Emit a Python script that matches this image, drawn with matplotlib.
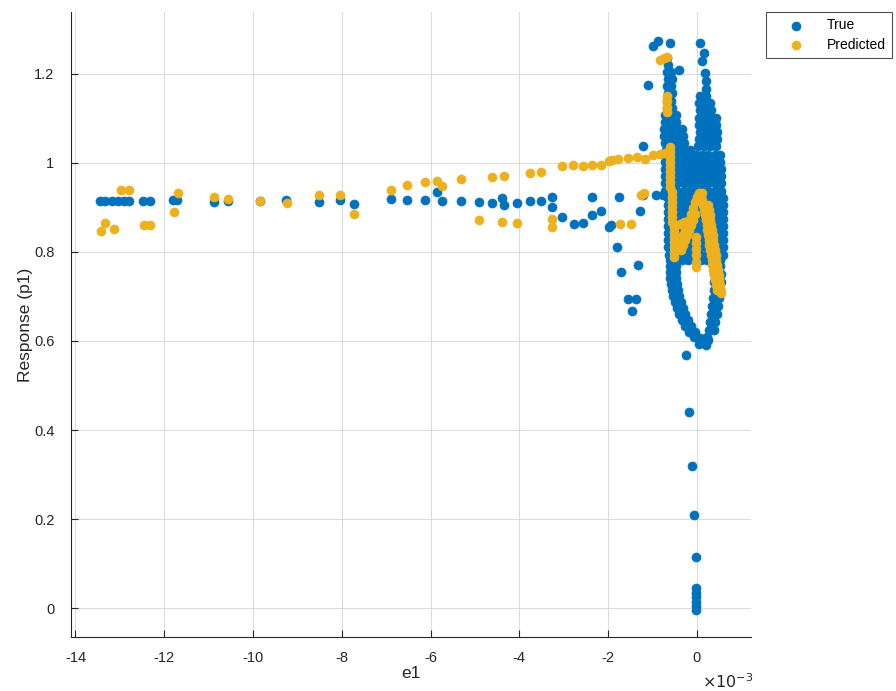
import numpy as np
import matplotlib.pyplot as plt

plt.rcParams['font.family'] = ['Liberation Sans', 'DejaVu Sans']
plt.rcParams['axes.unicode_minus'] = False

# e1 values are in units of 1e-3 (axis shows x10^-3)

# --- True: scattered points ---
true_e1 = [-13.45, -13.34, -13.18, -13.04, -12.90, -12.79, -12.48, -12.32,
           -11.80, -11.72, -10.88, -10.56, -9.84, -9.26, -8.51, -8.04, -7.73,
           -6.90, -6.52, -6.13, -5.86, -5.74, -5.32, -4.90, -4.62, -4.40, -4.34,
           -4.05, -3.76, -3.51, -3.27, -3.27, -3.03, -2.77, -2.57, -2.37, -2.37,
           -2.15, -1.98, -1.94, -1.75, -1.28, -1.81, -1.32, -1.70, -1.56, -1.37,
           -1.47, -1.21, -0.91, -0.76, -0.98, -0.87, -0.61, 0.08, 0.16, 0.11,
           0.18, 0.20, -0.40, -1.11, -1.21,
           -0.25, -0.17, -0.12, -0.06, -0.03, -0.01, -0.01, -0.01, -0.01, -0.01, -0.01]
true_p1 = [0.915, 0.915, 0.915, 0.915, 0.915, 0.915, 0.915, 0.915,
           0.917, 0.917, 0.913, 0.915, 0.915, 0.917, 0.913, 0.917, 0.907,
           0.918, 0.917, 0.917, 0.934, 0.915, 0.915, 0.912, 0.909, 0.922, 0.906,
           0.909, 0.915, 0.915, 0.923, 0.902, 0.879, 0.863, 0.866, 0.923, 0.883,
           0.893, 0.855, 0.861, 0.924, 0.891, 0.812, 0.771, 0.754, 0.694, 0.694,
           0.667, 0.928, 0.928, 0.928, 1.263, 1.273, 1.269, 1.269, 1.247, 1.228,
           1.202, 1.183, 1.208, 1.175, 1.038,
           0.569, 0.441, 0.319, 0.208, 0.114, 0.044, 0.034, 0.024, 0.014, 0.004, -0.004]

# --- True: dense cluster near e1 = 0, read row by row ---
true_core_p1 = [1.236, 1.220, 1.204, 1.188, 1.172, 1.156, 1.140, 1.124, 1.108,
                1.092, 1.076, 1.060, 1.044, 1.030,
                1.165, 1.150, 1.134, 1.118, 1.102, 1.086, 1.070, 1.054, 1.038,
                1.018, 1.002, 0.986, 0.970, 0.954, 0.938, 0.922, 0.906, 0.890,
                0.874, 0.858, 0.842, 0.826, 0.810, 0.794, 0.782]
true_core_e1 = [
    [-0.68], [-0.66], [-0.68, -0.58], [-0.66, -0.56], [-0.68, -0.58],
    [-0.66, -0.56], [-0.68, -0.58], [-0.68, -0.56], [-0.72, -0.60, -0.48],
    [-0.72, -0.60, -0.46], [-0.74, -0.60, -0.46, -0.34], [-0.74, -0.60, -0.46, -0.32],
    [-0.72, -0.58, -0.44, -0.30], [-0.70, -0.56, -0.42, -0.28, -0.16],
    [0.20], [0.08, 0.20], [0.04, 0.18, 0.30], [0.06, 0.20, 0.32],
    [0.04, 0.18, 0.32, 0.44], [0.04, 0.18, 0.32, 0.44], [0.06, 0.20, 0.34, 0.46],
    [0.04, 0.18, 0.32, 0.46], [0.02, 0.16, 0.30, 0.44],
    [-0.72, -0.58, -0.44, -0.30, -0.16, -0.02, 0.12, 0.26, 0.40, 0.52],
    [-0.72, -0.58, -0.44, -0.30, -0.16, -0.02, 0.12, 0.26, 0.40, 0.52],
    [-0.72, -0.58, -0.44, -0.30, -0.16, -0.02, 0.12, 0.26, 0.40, 0.54],
    [-0.72, -0.58, -0.44, -0.30, -0.16, -0.02, 0.12, 0.26, 0.40, 0.54],
    [-0.72, -0.58, -0.44, -0.30, -0.16, -0.02, 0.12, 0.26, 0.40, 0.54],
    [-0.72, -0.58, -0.44, -0.30, -0.16, -0.02, 0.12, 0.26, 0.40, 0.54],
    [-0.66, -0.52, -0.38, -0.24, -0.10, 0.04, 0.18, 0.32, 0.46, 0.58],
    [-0.66, -0.52, -0.38, -0.24, -0.10, 0.04, 0.18, 0.32, 0.46, 0.58],
    [-0.66, -0.52, -0.38, -0.24, -0.10, 0.04, 0.18, 0.32, 0.46, 0.58],
    [-0.66, -0.52, -0.38, -0.24, -0.10, 0.04, 0.18, 0.32, 0.46, 0.58],
    [-0.66, -0.52, -0.38, -0.24, -0.10, 0.04, 0.18, 0.32, 0.46, 0.58],
    [-0.66, -0.52, -0.38, -0.24, -0.10, 0.04, 0.18, 0.32, 0.46, 0.58],
    [-0.64, -0.50, -0.36, -0.22, -0.08, 0.06, 0.20, 0.34, 0.46, 0.58],
    [-0.64, -0.50, -0.36, -0.22, -0.08, 0.06, 0.20, 0.34, 0.46, 0.58],
    [-0.62, -0.48, -0.34, -0.20, -0.06, 0.08, 0.22, 0.36, 0.48, 0.58],
    [-0.61, -0.47, -0.33, -0.19, -0.05, 0.09, 0.23, 0.38, 0.52],
]

# --- True: lower loop (ellipse) ---
true_loop_e1 = [-0.61, -0.47, -0.61, -0.47, -0.61, -0.47, -0.59, -0.45, -0.56, -0.43,
                -0.54, -0.41, -0.50, -0.36, -0.45, -0.32, -0.41, -0.27, -0.34, -0.20,
                -0.27, -0.14, -0.18, -0.05, -0.07, 0.07, 0.14, 0.25, 0.05, 0.20,
                0.38, 0.52, 0.38, 0.54, 0.38, 0.54, 0.38, 0.52, 0.36, 0.50,
                0.34, 0.47, 0.32, 0.45, 0.29, 0.41, 0.27, 0.38, 0.22]
true_loop_p1 = [0.769, 0.769, 0.755, 0.755, 0.742, 0.742, 0.728, 0.728, 0.715, 0.715,
                0.701, 0.701, 0.688, 0.688, 0.674, 0.674, 0.661, 0.661, 0.647, 0.647,
                0.634, 0.634, 0.620, 0.620, 0.609, 0.607, 0.598, 0.602, 0.594, 0.592,
                0.768, 0.768, 0.750, 0.750, 0.732, 0.732, 0.714, 0.714, 0.696, 0.696,
                0.678, 0.678, 0.660, 0.660, 0.642, 0.642, 0.624, 0.624, 0.608]

# --- Predicted: scattered points ---
pred_e1 = [-13.43, -13.33, -13.12, -12.98, -12.79, -12.45, -12.32, -11.70, -11.77,
           -10.88, -10.56, -9.84, -9.23, -8.51, -8.04, -7.73, -6.90, -6.52, -6.13,
           -5.86, -5.74, -5.32, -4.90, -4.62, -4.40, -4.34, -4.05, -3.76, -3.51,
           -3.27, -3.27, -3.03, -2.79, -2.57, -2.37, -2.17, -1.98, -1.92, -1.77,
           -1.55, -1.34, -1.17, -0.98, -0.83, -0.72, -1.73, -1.49, -1.25, -1.20,
           -0.83, -0.75, -0.67, -0.68, -0.68, -0.68, -0.68]
pred_p1 = [0.847, 0.864, 0.851, 0.940, 0.940, 0.861, 0.861, 0.933, 0.889,
           0.923, 0.919, 0.915, 0.909, 0.928, 0.928, 0.886, 0.939, 0.951, 0.956,
           0.959, 0.949, 0.964, 0.872, 0.968, 0.868, 0.971, 0.865, 0.977, 0.980,
           0.874, 0.857, 0.992, 0.996, 0.993, 0.996, 0.996, 1.005, 1.007, 1.008,
           1.011, 1.013, 1.008, 1.018, 1.020, 1.022, 0.862, 0.862, 0.928, 0.933,
           1.231, 1.236, 1.239, 1.150, 1.138, 1.126, 1.114]

# --- Predicted: dense zig-zag near e1 = 0 ---
# left bar, rising diagonal (two strands), short stub, falling right band (four strands)
pred_core_e1 = [-0.61, -0.61, -0.61, -0.61, -0.61, -0.61, -0.61, -0.61, -0.61,
                -0.56, -0.56, -0.56, -0.56, -0.56, -0.56, -0.56,
                -0.52, -0.52, -0.52, -0.52, -0.52, -0.52, -0.52,
                -0.45, -0.41, -0.36, -0.32, -0.27, -0.23, -0.18, -0.14, -0.09,
                -0.05, 0.00, 0.05, 0.11, -0.38, -0.29,
                -0.35, -0.31, -0.26, -0.22, -0.17, -0.13, -0.08, -0.04,
                -0.01, -0.01, -0.01, -0.01, -0.01, -0.01,
                0.11, 0.16, 0.20, 0.23, 0.27, 0.29, 0.34, 0.36, 0.41, 0.45,
                0.13, 0.18, 0.22, 0.25, 0.28, 0.31, 0.35, 0.38, 0.43,
                0.25, 0.29, 0.32, 0.36, 0.38, 0.43, 0.45, 0.50, 0.52, 0.54,
                0.27, 0.30, 0.34, 0.37, 0.40, 0.44, 0.47, 0.51, 0.53]
pred_core_p1 = [1.036, 1.025, 1.013, 1.002, 0.991, 0.980, 0.969, 0.957, 0.946,
                0.935, 0.924, 0.912, 0.901, 0.890, 0.879, 0.867,
                0.856, 0.845, 0.834, 0.822, 0.811, 0.800, 0.789,
                0.804, 0.816, 0.827, 0.838, 0.849, 0.861, 0.872, 0.885, 0.899,
                0.912, 0.924, 0.933, 0.933, 0.863, 0.867,
                0.804, 0.816, 0.827, 0.838, 0.849, 0.861, 0.872, 0.885,
                0.834, 0.820, 0.807, 0.793, 0.778, 0.766,
                0.917, 0.894, 0.872, 0.849, 0.827, 0.804, 0.782, 0.760, 0.737, 0.715,
                0.906, 0.883, 0.861, 0.838, 0.816, 0.793, 0.771, 0.748, 0.726,
                0.906, 0.883, 0.861, 0.838, 0.816, 0.793, 0.771, 0.748, 0.726, 0.708,
                0.894, 0.872, 0.849, 0.827, 0.804, 0.782, 0.760, 0.737, 0.717]

# assemble series
core_x, core_y = [], []
for yv, xs in zip(true_core_p1, true_core_e1):
    core_x += xs
    core_y += [yv] * len(xs)
t_x = np.array(true_e1 + core_x + true_loop_e1)
t_y = np.array(true_p1 + core_y + true_loop_p1)
p_x = np.array(pred_e1 + pred_core_e1)
p_y = np.array(pred_p1 + pred_core_p1)

blue = '#0072BD'
orange = '#EDB120'

fig = plt.figure(figsize=(8.96, 6.91), dpi=100)
ax = fig.add_axes([71 / 896, 54 / 691, 680 / 896, 625 / 691])

ax.scatter(t_x, t_y, s=42, color=blue, edgecolors=blue, linewidths=0.5, label='True', zorder=3)
ax.scatter(p_x, p_y, s=42, color=orange, edgecolors=orange, linewidths=0.5, label='Predicted', zorder=4)

ax.set_xlim(-14.10, 1.22)
ax.set_ylim(-0.065, 1.339)
ax.set_xticks(np.arange(-14, 1, 2))
ax.set_yticks([0, 0.2, 0.4, 0.6, 0.8, 1.0, 1.2])
ax.set_yticklabels(['0', '0.2', '0.4', '0.6', '0.8', '1', '1.2'])
ax.set_xticklabels([str(v) for v in range(-14, 1, 2)])

ax.grid(True, color='#dcdcdc', linewidth=0.8)
ax.set_axisbelow(True)
for side in ['top', 'right']:
    ax.spines[side].set_visible(False)
for side in ['left', 'bottom']:
    ax.spines[side].set_color('#262626')
    ax.spines[side].set_linewidth(0.8)
ax.tick_params(direction='in', length=5, width=0.8, colors='#262626', labelsize=10.5)
ax.tick_params(axis='x', pad=10)
ax.tick_params(axis='y', pad=12)

ax.set_xlabel('e1', fontsize=12.5, color='#262626', labelpad=1)
ax.set_ylabel('Response (p1)', fontsize=12.5, color='#262626', labelpad=1)
fig.text(0.812, 0.005, r'$\times10^{-3}$', fontsize=11.5, color='#262626', ha='center')

leg = ax.legend(loc='upper left', bbox_to_anchor=(766 / 896, 1 - 12 / 691),
                bbox_transform=fig.transFigure, frameon=True, fancybox=False,
                fontsize=10, borderpad=0.45, handlelength=3.4, handletextpad=0.5,
                labelspacing=0.4, scatterpoints=1, borderaxespad=0)
leg.get_frame().set_edgecolor('#262626')
leg.get_frame().set_linewidth(0.8)

fig.savefig('out.png', dpi=100)
